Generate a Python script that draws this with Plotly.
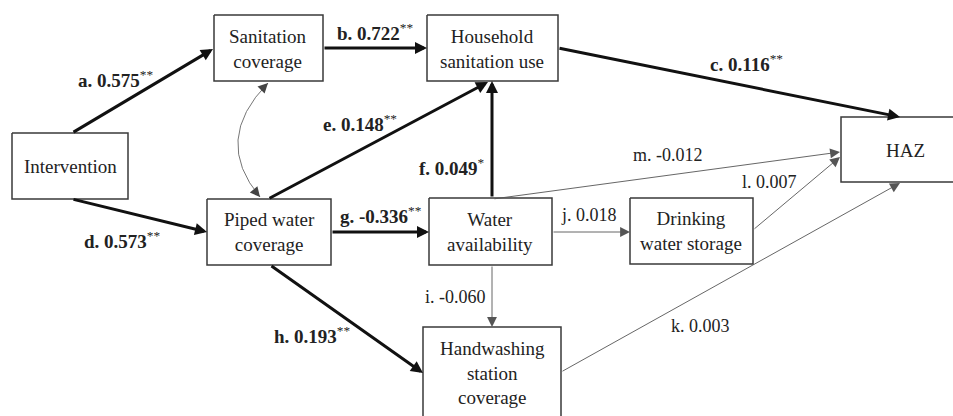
import plotly.graph_objects as go

# ---------------- data ----------------
node_names = ["Intervention", "Sanitation<br>coverage", "Household<br>sanitation use", "HAZ",
              "Piped water<br>coverage", "Water<br>availability", "Drinking<br>water storage",
              "Handwashing<br>station<br>coverage"]
path_letters = ["a", "b", "c", "d", "e", "f", "g", "h", "i", "j", "k", "l", "m"]
path_coefs = [0.575, 0.722, 0.116, 0.573, 0.148, 0.049, -0.336, 0.193, -0.060, 0.018, 0.003, 0.007, -0.012]
path_sig = ["**", "**", "**", "**", "**", "*", "**", "**", "", "", "", "", ""]

# ---------------- geometry (pixels of the window) ----------------
W, H = 953, 416
boxes = [(12, 133, 128, 199), (214, 15, 323, 81), (427, 15, 558, 81), (841, 117, 953, 182),
         (207, 199, 331, 265), (429, 198, 552, 265), (630, 198, 753, 264), (423, 327, 561, 416)]
text_pos = [(70, 166), (268, 49), (492, 49), (905, 150), (269, 232), (490, 232), (691, 231), (492, 373)]
edges = [((72, 133), (213, 49)), ((323, 48), (427, 48)), ((558, 48), (900, 117)),
         ((72, 199), (207, 232)), ((268, 199), (488, 82)), ((492, 198), (492, 81)),
         ((331, 232), (429, 232)), ((270, 265), (423, 373)), ((492, 265), (492, 327)),
         ((552, 232), (630, 232)), ((561, 372), (900, 183)), ((753, 230), (840, 157)),
         ((493, 199), (840, 152))]
label_pos = [(115, 79), (375, 32), (746, 63), (122, 240), (360, 123), (452, 167), (381, 215),
             (312, 335), (455, 297), (589, 215), (700, 326), (769, 182), (668, 155)]

FONT = "Liberation Serif, Times New Roman, serif"
fig = go.Figure()
shapes = []
annotations = []

for (x0, y0, x1, y1) in boxes:
    # boxes cut by the picture edge are drawn open on that side
    pts = [(x1, y0), (x0, y0), (x0, y1), (x1, y1)] if x1 >= W else \
          [(x0, y1), (x0, y0), (x1, y0), (x1, y1)] if y1 >= H else \
          [(x0, y0), (x1, y0), (x1, y1), (x0, y1), (x0, y0)]
    path = "M " + " L ".join(f"{px},{py}" for px, py in pts)
    shapes.append(dict(type="path", xref="x", yref="y", path=path,
                       line=dict(color="#3a3a3a", width=1.5)))
for name, (tx, ty) in zip(node_names, text_pos):
    annotations.append(dict(x=tx, y=ty, xref="x", yref="y", text=name, showarrow=False,
                            font=dict(family=FONT, size=19, color="#222")))

for i, ((tx, ty), (hx, hy)) in enumerate(edges):
    sig = path_sig[i] != ""
    annotations.append(dict(x=hx, y=hy, ax=tx, ay=ty, xref="x", yref="y", axref="x", ayref="y",
                            text="", showarrow=True, arrowhead=2,
                            arrowsize=0.8 if sig else 2.2, arrowwidth=3 if sig else 0.9,
                            arrowcolor="#111" if sig else "#555", standoff=0, startstandoff=0,
                            font=dict(family=FONT, size=12)))
    lab = f"{path_letters[i]}. {path_coefs[i]:.3f}"
    if sig:
        lab = f"<b>{lab}</b><sup>{path_sig[i]}</sup>"
    lx, ly = label_pos[i]
    annotations.append(dict(x=lx, y=ly, xref="x", yref="y", text=lab, showarrow=False,
                            font=dict(family=FONT, size=19 if sig else 18, color="#222")))

# curved double-headed covariance arrow
p0, c, p2 = (268, 83), (212, 140), (260, 197)
shapes.append(dict(type="path", xref="x", yref="y",
                   path=f"M {p0[0]},{p0[1]} Q {c[0]},{c[1]} {p2[0]},{p2[1]}",
                   line=dict(color="#666", width=0.9)))
for (px, py) in (p0, p2):
    annotations.append(dict(x=px, y=py, ax=px + (c[0] - px) * 0.1, ay=py + (c[1] - py) * 0.1,
                            xref="x", yref="y", axref="x", ayref="y", text="", showarrow=True,
                            arrowhead=2, arrowsize=2.2, arrowwidth=0.9, arrowcolor="#444",
                            standoff=0, font=dict(family=FONT, size=12)))

fig.update_layout(width=W, height=H, margin=dict(l=0, r=0, t=0, b=0),
                  plot_bgcolor="white", paper_bgcolor="white",
                  xaxis=dict(range=[0, W], visible=False, fixedrange=True),
                  yaxis=dict(range=[H, 0], visible=False, fixedrange=True),
                  shapes=shapes, annotations=annotations, showlegend=False)
fig.write_html("out.html", config={"displayModeBar": False},
               post_script="document.body.style.margin='0px';document.body.style.overflow='hidden';")
